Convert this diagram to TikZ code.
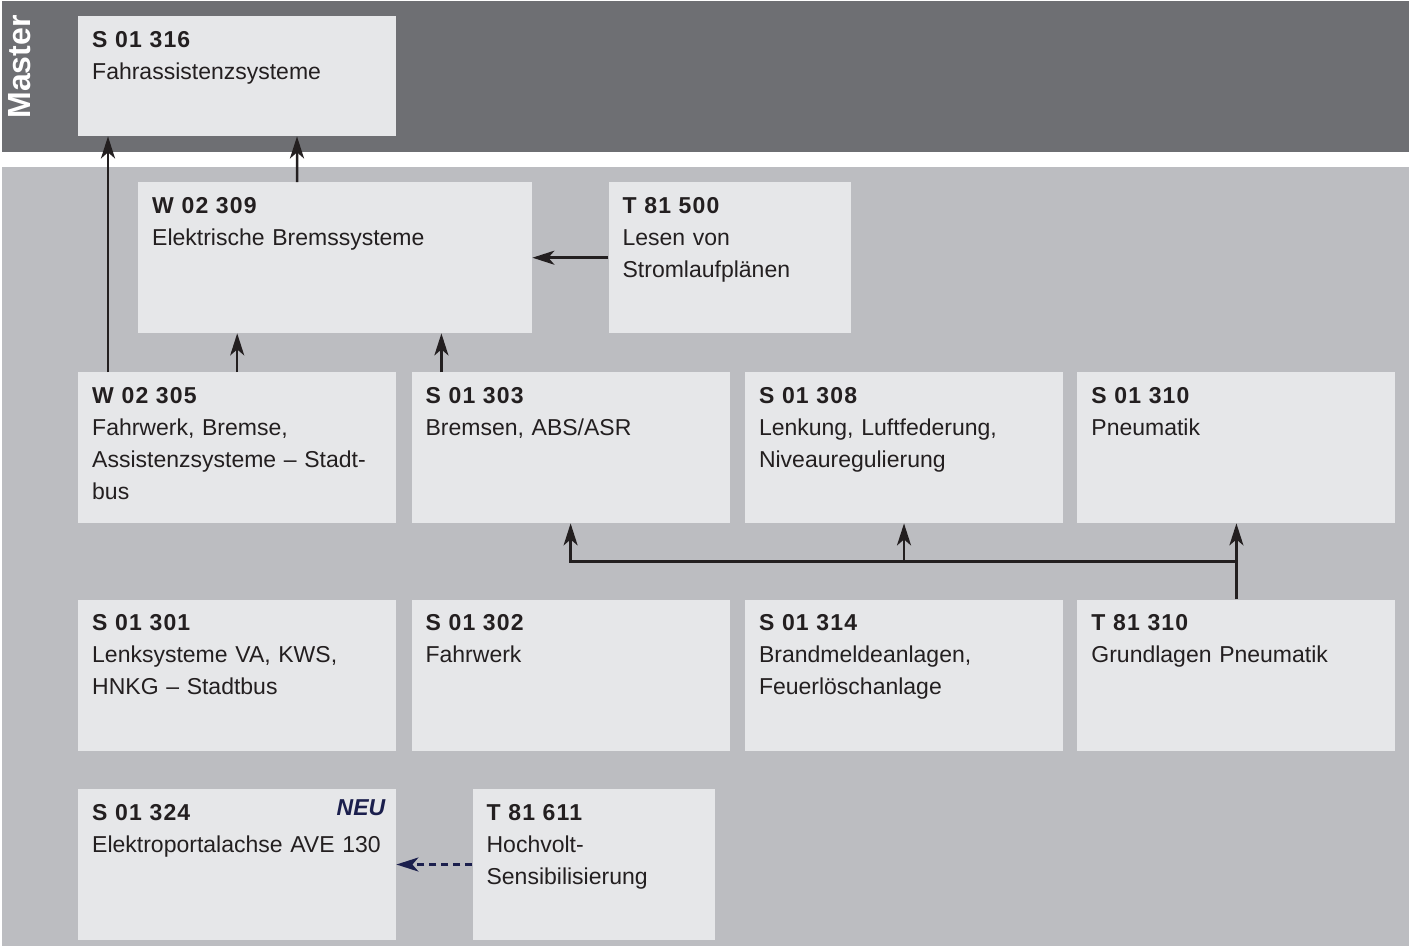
\documentclass[tikz,border=0pt]{standalone}
\usepackage{fontspec}
\setmainfont{Liberation Sans}
\newfontfamily\codefont[LetterSpace=5]{Liberation Sans}
\usepackage{tikz}
\usetikzlibrary{arrows.meta,positioning,calc}
\definecolor{masterband}{HTML}{6E6F73}
\definecolor{courseband}{HTML}{BCBDC1}
\definecolor{boxfill}{HTML}{E6E7E9}
\definecolor{textdark}{HTML}{231F20}
\definecolor{navy}{HTML}{1B1F4D}
\newcommand\coursefont{\fontsize{23bp}{32bp}\selectfont\frenchspacing}
\newcommand\coursecode[1]{{\codefont\bfseries #1}}

\begin{document}
\begin{tikzpicture}[x=1bp, y=-1bp,
  coursebox/.style={fill=boxfill, text=textdark, inner sep=14bp, text width=290bp, text height=17bp, text depth=106bp, align=left, font=\coursefont},
  masterbox/.style={coursebox, text depth=75bp},
  widebox/.style={coursebox, text width=366bp},
  smallbox/.style={coursebox, text width=214bp},
  newtag/.style={inner sep=0pt, text=navy, font=\fontsize{23bp}{28bp}\selectfont\bfseries\itshape},
  arr/.style={-{Stealth[length=22bp, width=14bp, inset=6bp]}, line width=2.5bp, draw=textdark},
  arrdash/.style={arr, draw=navy, dash pattern=on 7bp off 5bp}
]
  \useasboundingbox (0,0) rectangle (1418,946);
  \fill[masterband] (2,1) rectangle (1409,152);
  \fill[courseband] (2,167) rectangle (1409,946);
  \node[rotate=90, text=white, inner sep=0pt, font=\fontsize{32bp}{36bp}\selectfont\bfseries] (master) at (20,67) {Master};

  % master
  \node[masterbox, anchor=north west] (s01316) at (78,16) {\coursecode{S 01 316}\\Fahrassistenzsysteme};

  % second level
  \node[widebox, anchor=north west] (w02309) at (138,182) {\coursecode{W 02 309}\\Elektrische Bremssysteme};
  \node[smallbox, right=76bp of w02309] (t81500) {\coursecode{T 81 500}\\Lesen von\\Stromlaufplänen};

  % third level
  \node[coursebox, anchor=north west] (w02305) at (78,372) {\coursecode{W 02 305}\\Fahrwerk, Bremse,\\Assistenzsysteme – Stadt-\\bus};
  \node[coursebox, right=15bp of w02305] (s01303) {\coursecode{S 01 303}\\Bremsen, ABS/ASR};
  \node[coursebox, right=15bp of s01303] (s01308) {\coursecode{S 01 308}\\Lenkung, Luftfederung,\\Niveauregulierung};
  \node[coursebox, right=14bp of s01308] (s01310) {\coursecode{S 01 310}\\Pneumatik};

  % basics
  \node[coursebox, below=76bp of w02305] (s01301) {\coursecode{S 01 301}\\Lenksysteme VA, KWS,\\HNKG – Stadtbus};
  \node[coursebox, right=15bp of s01301] (s01302) {\coursecode{S 01 302}\\Fahrwerk};
  \node[coursebox, right=15bp of s01302] (s01314) {\coursecode{S 01 314}\\Brandmeldeanlagen,\\Feuerlöschanlage};
  \node[coursebox, right=14bp of s01314] (t81310) {\coursecode{T 81 310}\\Grundlagen Pneumatik};

  \node[coursebox, below=38bp of s01301] (s01324) {\coursecode{S 01 324}\\Elektroportalachse AVE 130};
  \node[newtag, anchor=north east] (s01324new) at ([xshift=-11bp, yshift=-11bp]s01324.north east) {NEU};
  \node[smallbox, right=76bp of s01324] (t81611) {\coursecode{T 81 611}\\Hochvolt-\\Sensibilisierung};

  \draw[arr] ([xshift=30bp]w02305.north west) -- ([xshift=30bp]s01316.south west);
  \draw[arr] ([xshift=159bp]w02309.north west) -- ([xshift=219bp]s01316.south west);
  \draw[arr] (w02305.north) -- (w02305.north |- w02309.south);
  \draw[arr] ([xshift=30bp]s01303.north west) -- ([xshift=30bp]s01303.north west |- w02309.south);
  \draw[arr] (t81500.west) -- (t81500.west -| w02309.east);

  \draw[arr] (t81310.north) -- (s01310.south);
  \coordinate (bus) at ($(t81310.north)!0.5!(s01310.south)$);
  \draw[arr] (bus) -| (s01303.south);
  \draw[arr] (bus -| s01308.south) -- (s01308.south);

  \draw[arrdash] (t81611.west) -- (s01324.east);
\end{tikzpicture}
\end{document}
